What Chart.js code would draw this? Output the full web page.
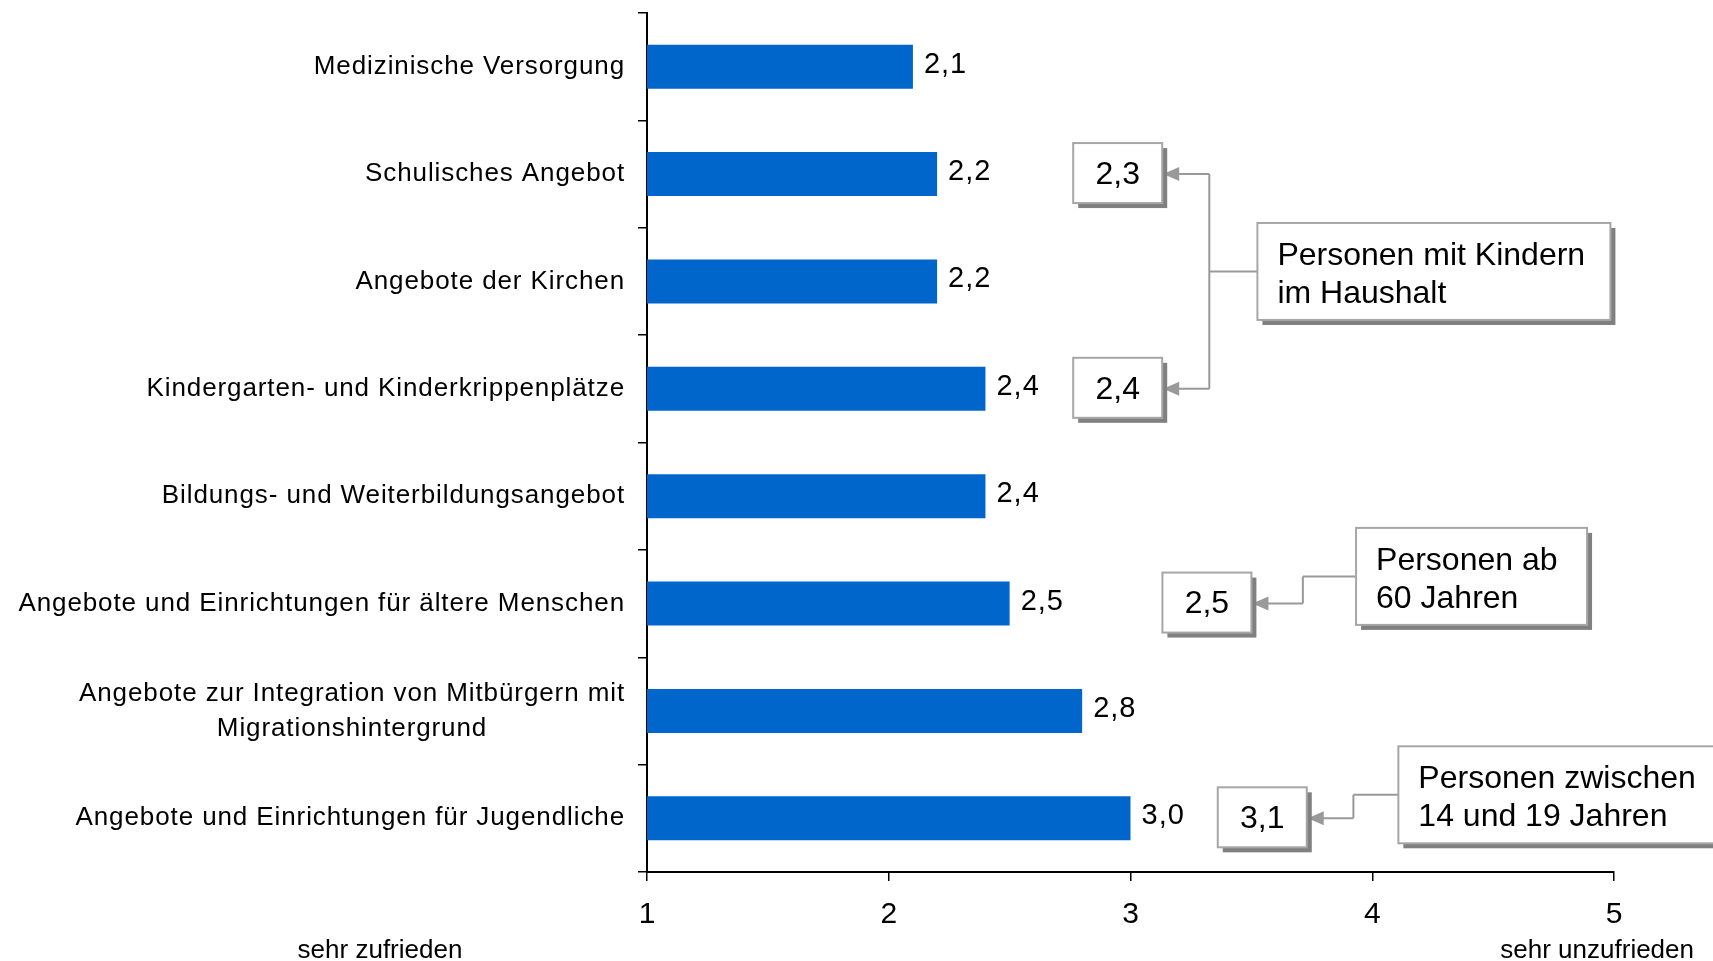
<!DOCTYPE html>
<html lang="de">
<head>
<meta charset="utf-8">
<title>Zufriedenheit mit den Angeboten</title>
<script src="https://cdn.jsdelivr.net/npm/chart.js@4.4.1/dist/chart.umd.min.js"></script>
<style>
  html, body { margin: 0; padding: 0; background: #fff; }
  #chart { display: block; }
</style>
</head>
<body>
<canvas id="chart" width="1713" height="961"></canvas>
<script>
//
// DATEN
//
const categories = [
  ['Medizinische Versorgung'],
  ['Schulisches Angebot'],
  ['Angebote der Kirchen'],
  ['Kindergarten- und Kinderkrippenplätze'],
  ['Bildungs- und Weiterbildungsangebot'],
  ['Angebote und Einrichtungen für ältere Menschen'],
  ['Angebote zur Integration von Mitbürgern mit', 'Migrationshintergrund'],
  ['Angebote und Einrichtungen für Jugendliche']
];
const scores = [2.1, 2.2, 2.2, 2.4, 2.4, 2.5, 2.8, 3.0];
const xTicks = [1, 2, 3, 4, 5];
const scaleEnds = ['sehr zufrieden', 'sehr unzufrieden'];

// Werte einzelner Gruppen (Zeile = Index in categories)
const subgroupRows = [1, 3, 5, 7];
const subgroupScores = [2.3, 2.4, 2.5, 3.1];
const groupLabels = [
  ['Personen mit Kindern', 'im Haushalt'],
  ['Personen ab', '60 Jahren'],
  ['Personen zwischen', '14 und 19 Jahren']
];
const groupMembers = [[0, 1], [2], [3]];

//
// LAYOUT der Hinweiskästen (in Skalenwerten)
//
const subBoxX = [2.763, 2.763, 3.132, 3.361];
const subBoxW = 89, subBoxH = 60;
const groupBoxX = [3.525, 3.933, 4.108];
const groupBoxW = [353, 231, 340];
const groupBoxH = 97;
const groupBoxRow = [1.907, 4.747, 6.781];
const elbowX = [3.326, 3.713, 3.922];

const FONT = "'Liberation Sans', Arial, sans-serif";
const GREY = '#999999';

function komma(v) {
  return v.toFixed(1).replace('.', ',');
}

function drawBox(ctx, l, t, w, h) {
  ctx.fillStyle = '#808080';
  ctx.fillRect(l + 5, t + 5, w, h);
  ctx.fillStyle = '#ffffff';
  ctx.fillRect(l, t, w, h);
  ctx.strokeStyle = '#a6a6a6';
  ctx.lineWidth = 2;
  ctx.strokeRect(l, t, w, h);
}

const extrasPlugin = {
  id: 'extras',
  afterDraw(chart) {
    const ctx = chart.ctx;
    const xs = chart.scales.x;
    const ys = chart.scales.y;
    ctx.save();

    // Kategorienamen
    ctx.fillStyle = '#000';
    ctx.font = '26px ' + FONT;
    ctx.letterSpacing = '0.9px';
    ctx.textBaseline = 'middle';
    const right = xs.left - 22;
    categories.forEach((lines, i) => {
      const cy = ys.getPixelForValue(i);
      const mid = right - ctx.measureText(lines[0]).width / 2;
      lines.forEach((line, k) => {
        const ly = cy + (k - (lines.length - 1) / 2) * 35;
        ctx.textAlign = k === 0 ? 'right' : 'center';
        ctx.fillText(line, k === 0 ? right : mid, ly);
      });
    });

    // Werte an den Balken
    ctx.font = '29px ' + FONT;
    ctx.letterSpacing = '1px';
    ctx.textAlign = 'left';
    chart.getDatasetMeta(0).data.forEach((bar, i) => {
      ctx.fillText(komma(scores[i]), bar.x + 11, bar.y - 2);
    });
    ctx.letterSpacing = '0px';

    // Skalenenden
    ctx.font = '26px ' + FONT;
    ctx.textBaseline = 'alphabetic';
    ctx.textAlign = 'center';
    ctx.fillText(scaleEnds[0], xs.left - 267, 958);
    ctx.textAlign = 'right';
    ctx.fillText(scaleEnds[1], xs.getPixelForValue(5) + 80, 958);

    // Gruppenwerte mit Verbindern
    groupLabels.forEach((lines, g) => {
      const bl = xs.getPixelForValue(groupBoxX[g]);
      const bcy = ys.getPixelForValue(groupBoxRow[g]);
      const ex = xs.getPixelForValue(elbowX[g]);
      const ysList = [bcy];

      ctx.strokeStyle = GREY;
      ctx.fillStyle = GREY;
      ctx.lineWidth = 2;
      groupMembers[g].forEach(m => {
        const my = ys.getPixelForValue(subgroupRows[m]);
        const tip = xs.getPixelForValue(subBoxX[m]) + subBoxW + 1;
        ysList.push(my);
        ctx.beginPath();
        ctx.moveTo(ex, my);
        ctx.lineTo(tip + 14, my);
        ctx.stroke();
        ctx.beginPath();
        ctx.moveTo(tip, my);
        ctx.lineTo(tip + 16, my - 7);
        ctx.lineTo(tip + 16, my + 7);
        ctx.closePath();
        ctx.fill();
      });
      ctx.beginPath();
      ctx.moveTo(ex, Math.min(...ysList));
      ctx.lineTo(ex, Math.max(...ysList));
      ctx.moveTo(ex, bcy);
      ctx.lineTo(bl, bcy);
      ctx.stroke();

      const bt = bcy - groupBoxH / 2;
      drawBox(ctx, bl, bt, groupBoxW[g], groupBoxH);
      ctx.fillStyle = '#000';
      ctx.font = '32px ' + FONT;
      ctx.textAlign = 'left';
      ctx.textBaseline = 'alphabetic';
      lines.forEach((line, k) => {
        ctx.fillText(line, bl + 20, bt + 42 + k * 38);
      });
    });

    subgroupScores.forEach((v, m) => {
      const l = xs.getPixelForValue(subBoxX[m]);
      const cy = ys.getPixelForValue(subgroupRows[m]) - 1;
      drawBox(ctx, l, cy - subBoxH / 2, subBoxW, subBoxH);
      ctx.fillStyle = '#000';
      ctx.font = '32px ' + FONT;
      ctx.textAlign = 'center';
      ctx.textBaseline = 'middle';
      ctx.fillText(komma(v), l + subBoxW / 2, cy + 2);
    });

    ctx.restore();
  }
};

//
// CHART
//
const ctx = document.getElementById('chart').getContext('2d');

new Chart(ctx, {
  type: 'bar',
  data: {
    labels: categories,
    datasets: [{
      data: scores,
      backgroundColor: '#0066cc',
      barPercentage: 0.41,
      categoryPercentage: 1
    }]
  },
  plugins: [extrasPlugin],
  options: {
    indexAxis: 'y',
    responsive: false,
    animation: false,
    layout: {
      padding: { top: 13, right: 99, left: 0, bottom: 0 }
    },
    plugins: {
      legend: { display: false },
      tooltip: { enabled: false }
    },
    scales: {
      x: {
        type: 'linear',
        min: xTicks[0],
        max: xTicks[xTicks.length - 1],
        afterBuildTicks: scale => {
          scale.ticks = xTicks.map(v => ({ value: v }));
        },
        afterFit: scale => { scale.height = 89; },
        ticks: {
          color: '#000',
          font: { family: FONT, size: 30 },
          padding: 16,
          callback: v => String(v)
        },
        grid: {
          drawOnChartArea: false,
          drawTicks: true,
          tickLength: 9,
          color: '#000',
          lineWidth: 1.5
        },
        border: { color: '#000', width: 2 }
      },
      y: {
        type: 'category',
        afterFit: scale => { scale.width = 647; },
        ticks: { display: false },
        grid: {
          offset: true,
          drawOnChartArea: false,
          drawTicks: true,
          tickLength: 9,
          color: '#000',
          lineWidth: 1.5
        },
        border: { color: '#000', width: 2 }
      }
    }
  }
});
</script>
</body>
</html>
